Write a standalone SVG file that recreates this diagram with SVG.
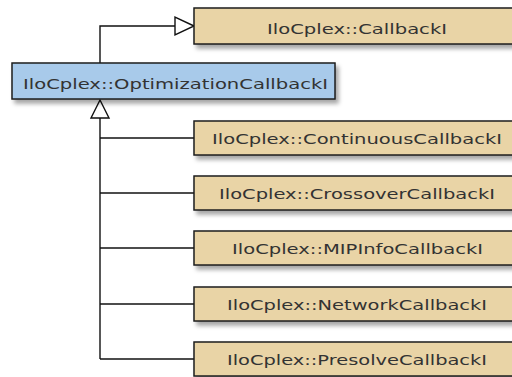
<svg xmlns="http://www.w3.org/2000/svg" width="512" height="377" viewBox="0 0 512 377">
<defs>
<filter id="sh" x="-10%" y="-30%" width="130%" height="180%">
<feDropShadow dx="3" dy="4" stdDeviation="2" flood-color="#000" flood-opacity="0.35"/>
</filter>
<style>
.box{stroke:#1e1e1e;stroke-width:1.5;filter:url(#sh)}
.tan{fill:#E9D4A6}
.blue{fill:#A8CAEA}
.lbl{font-family:"DejaVu Sans","Verdana",sans-serif;font-size:14px;fill:#333}
.ln{stroke:#111;stroke-width:1.4;fill:none}
.tri{stroke:#111;stroke-width:1.4;fill:#fff}
</style>
</defs>
<rect width="512" height="377" fill="#fff"/>
<g id="connectors">
<polyline class="ln" points="100,63 100,26 175,26"/>
<polygon class="tri" points="194,26 175,17 175,35"/>
<line class="ln" x1="100" y1="118" x2="100" y2="359"/>
<line class="ln" x1="100" y1="138" x2="194" y2="138"/>
<line class="ln" x1="100" y1="193" x2="194" y2="193"/>
<line class="ln" x1="100" y1="248" x2="194" y2="248"/>
<line class="ln" x1="100" y1="304" x2="194" y2="304"/>
<line class="ln" x1="100" y1="359" x2="194" y2="359"/>
<polygon class="tri" points="100,100 91,118 109,118"/>
</g>
<g id="callback">
<rect class="box tan" x="194" y="8" width="326" height="36"/>
<text class="lbl" x="267" y="33.5" textLength="180" lengthAdjust="spacingAndGlyphs">IloCplex::CallbackI</text>
</g>
<g id="optimization">
<rect class="box blue" x="12" y="63" width="323" height="36"/>
<text class="lbl" x="23" y="88.5" textLength="305" lengthAdjust="spacingAndGlyphs">IloCplex::OptimizationCallbackI</text>
</g>
<g id="continuous">
<rect class="box tan" x="194" y="121" width="326" height="34"/>
<text class="lbl" x="212" y="143.5" textLength="290" lengthAdjust="spacingAndGlyphs">IloCplex::ContinuousCallbackI</text>
</g>
<g id="crossover">
<rect class="box tan" x="194" y="176" width="326" height="34"/>
<text class="lbl" x="219" y="198.5" textLength="276" lengthAdjust="spacingAndGlyphs">IloCplex::CrossoverCallbackI</text>
</g>
<g id="mipinfo">
<rect class="box tan" x="194" y="231" width="326" height="34"/>
<text class="lbl" x="232" y="253.5" textLength="251" lengthAdjust="spacingAndGlyphs">IloCplex::MIPInfoCallbackI</text>
</g>
<g id="network">
<rect class="box tan" x="194" y="287" width="326" height="34"/>
<text class="lbl" x="227" y="309.5" textLength="260" lengthAdjust="spacingAndGlyphs">IloCplex::NetworkCallbackI</text>
</g>
<g id="presolve">
<rect class="box tan" x="194" y="342" width="326" height="34"/>
<text class="lbl" x="227" y="364.5" textLength="260" lengthAdjust="spacingAndGlyphs">IloCplex::PresolveCallbackI</text>
</g>
</svg>
